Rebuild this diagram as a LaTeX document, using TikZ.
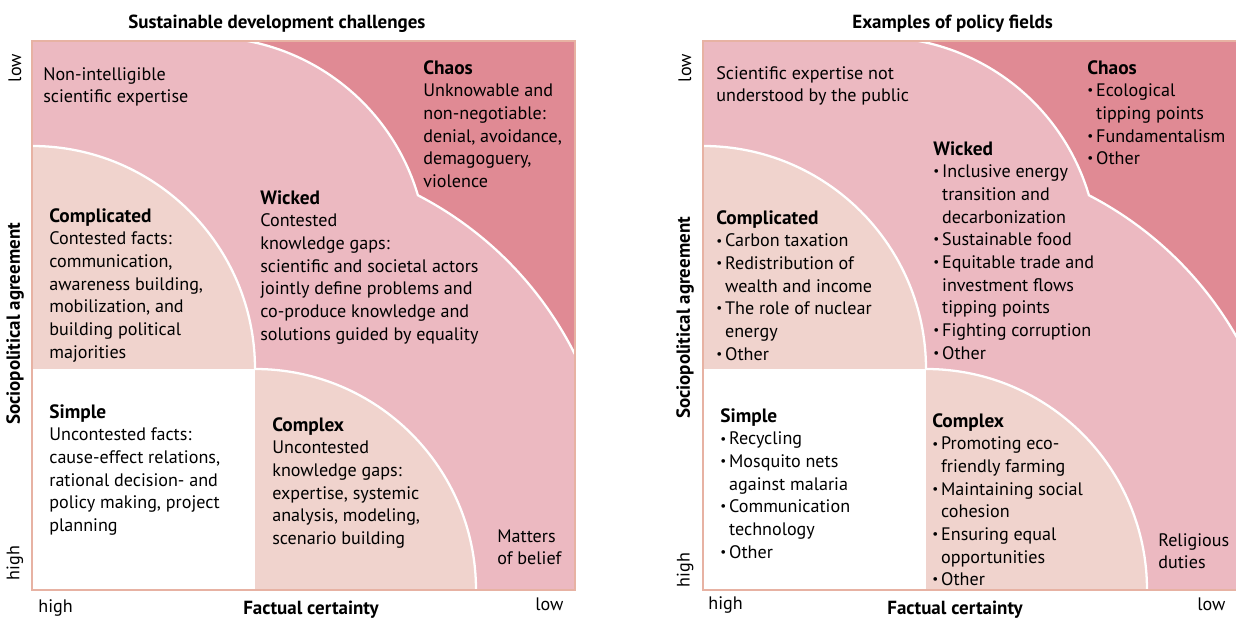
\documentclass[tikz,border=0pt]{standalone}
\usepackage{fontspec}
\setmainfont{PT Sans}
\definecolor{wickedpink}{RGB}{236,185,193}
\definecolor{chaosred}{RGB}{224,138,148}
\definecolor{mildpink}{RGB}{240,211,205}
\definecolor{framesalmon}{RGB}{231,178,163}
\newcommand{\itm}{\makebox[5pt][l]{\raisebox{0.2ex}{\fontsize{7.5}{7.5}\selectfont\textbullet}}}
\newcommand{\itmgap}{\hspace*{5pt}}
\newcommand{\hd}[1]{{\fontsize{11}{12.9}\selectfont\bfseries #1}}
\begin{document}
\begin{tikzpicture}[
  x=0.02cm, y=0.02cm,
  every node/.style={font=\fontsize{10.3}{12.9}\selectfont, inner sep=0pt},
  blk/.style={anchor=north west, align=left},
  ttl/.style={anchor=base west, font=\fontsize{10.8}{12.9}\selectfont\bfseries},
  vlab/.style={rotate=90},
  sep/.style={draw=white, line width=1.3pt},
  frame/.style={draw=framesalmon, line width=1.5pt}
]
\useasboundingbox (0,0) rectangle (1236,618);
\clip (0,0) rectangle (1236,618);
% the two panels share one layout
\foreach \dx in {0,671}{
  \begin{scope}[shift={(\dx,0)}]
    \begin{scope}
      \clip (32,28) rectangle (575,577);
      \fill[wickedpink] (32,28) rectangle (575,577);
      \fill[chaosred] (244.4,577.6) arc[start angle=80, end angle=16.5, radius=221]
        arc[start angle=62.65, end angle=20, radius=361.2] -- (600,600) -- cycle;
      \draw[sep] (244.4,577.6) arc[start angle=80, end angle=16.5, radius=221]
        arc[start angle=62.65, end angle=20, radius=361.2];
      \fill[mildpink] (32,249) -- (32,472) arc[start angle=90, end angle=0, radius=223] -- cycle;
      \fill[mildpink] (255,28) -- (255,249) arc[start angle=90, end angle=0, radius=221] -- cycle;
      \fill[white] (32,28) rectangle (255,249);
      \draw[sep] (32,472) arc[start angle=90, end angle=0, radius=223];
      \draw[sep] (255,249) arc[start angle=90, end angle=0, radius=221];
    \end{scope}
    \draw[frame] (32,28) rectangle (575,577);
  \end{scope}
}

% left panel
\node[ttl] (lefttitle) at (128,589) {Sustainable development challenges};
\node[vlab] (lefthighy) at (15,55) {high};
\node[vlab] (leftlowy) at (15,550) {low};
\node[vlab, font=\fontsize{10.8}{12.9}\selectfont\bfseries] (leftyaxis) at (15,294) {Sociopolitical agreement};
\node[anchor=base west] (lefthighx) at (38,6) {high};
\node[ttl] (leftxaxis) at (243,4) {Factual certainty};
\node[anchor=base west] (leftlowx) at (535,8) {low};

\node[blk] (leftexpert) at (43,551) {Non-intelligible\\scientific expertise};
\node[blk] (leftchaos) at (423,558) {\hd{Chaos}\\Unknowable and\\non-negotiable:\\denial, avoidance,\\demagoguery,\\violence};
\node[blk] (leftwicked) at (260,428) {\hd{Wicked}\\Contested\\knowledge gaps:\\scientific and societal actors\\jointly define problems and\\co-produce knowledge and\\solutions guided by equality};
\node[blk] (leftcomplicated) at (49,410) {\hd{Complicated}\\Contested facts:\\communication,\\awareness building,\\mobilization, and\\building political\\majorities};
\node[blk] (leftsimple) at (49,214) {\hd{Simple}\\Uncontested facts:\\cause-effect relations,\\rational decision- and\\policy making, project\\planning};
\node[blk] (leftcomplex) at (272,201) {\hd{Complex}\\Uncontested\\knowledge gaps:\\expertise, systemic\\analysis, modeling,\\scenario building};
\node[blk] (leftbelief) at (497,89) {Matters\\of belief};

% right panel
\node[ttl] (righttitle) at (852,589) {Examples of policy fields};
\node[vlab] (righthighy) at (685,48) {high};
\node[vlab] (rightlowy) at (685,550) {low};
\node[vlab, font=\fontsize{10.8}{12.9}\selectfont\bfseries] (rightyaxis) at (685,300) {Sociopolitical agreement};
\node[anchor=base west] (righthighx) at (708,9) {high};
\node[ttl] (rightxaxis) at (887,4) {Factual certainty};
\node[anchor=base west] (rightlowx) at (1197,8) {low};

\node[blk] (rightexpert) at (716,552) {Scientific expertise not\\understood by the public};
\node[blk] (rightchaos) at (1087,558) {\hd{Chaos}\\\itm Ecological\\\itmgap tipping points\\\itm Fundamentalism\\\itm Other};
\node[blk] (rightwicked) at (933,477) {\hd{Wicked}\\\itm Inclusive energy\\\itmgap transition and\\\itmgap decarbonization\\\itm Sustainable food\\\itm Equitable trade and\\\itmgap investment flows\\\itmgap tipping points\\\itm Fighting corruption\\\itm Other};
\node[blk] (rightcomplicated) at (716,408) {\hd{Complicated}\\\itm Carbon taxation\\\itm Redistribution of\\\itmgap wealth and income\\\itm The role of nuclear\\\itmgap energy\\\itm Other};
\node[blk] (rightsimple) at (720,210) {\hd{Simple}\\\itm Recycling\\\itm Mosquito nets\\\itmgap against malaria\\\itm Communication\\\itmgap technology\\\itm Other};
\node[blk] (rightcomplex) at (932,205) {\hd{Complex}\\\itm Promoting eco-\\\itmgap friendly farming\\\itm Maintaining social\\\itmgap cohesion\\\itm Ensuring equal\\\itmgap opportunities\\\itm Other};
\node[blk] (rightduties) at (1158,85) {Religious\\duties};
\end{tikzpicture}
\end{document}
